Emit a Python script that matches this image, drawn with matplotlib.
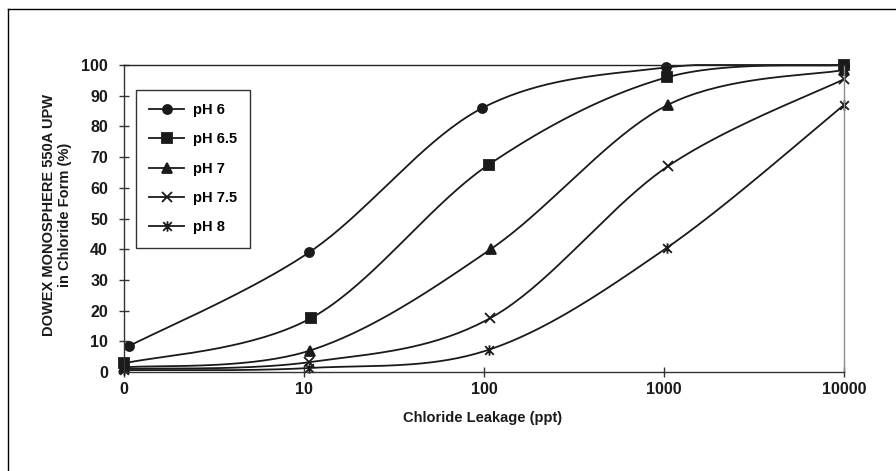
import numpy as np
import matplotlib
matplotlib.use('Agg')
import matplotlib.pyplot as plt
from matplotlib.path import Path
from matplotlib.lines import Line2D

plt.rcParams['font.family'] = ['Liberation Sans', 'DejaVu Sans']
plt.rcParams['font.weight'] = 'bold'

# values (x in ppt, y in %)
labels = ['pH 6', 'pH 6.5', 'pH 7', 'pH 7.5', 'pH 8']
x_ph6 = [1.07, 10.7, 98, 1030, 10000]
y_ph6 = [8.5, 39, 86, 99.2, 100]
x_ph65 = [1.0, 10.9, 106, 1040, 10000]
y_ph65 = [2.8, 17.5, 67.5, 96, 100]
x_ph7 = [1.0, 10.8, 109, 1050, 10000]
y_ph7 = [1.5, 7, 40, 87, 98.4]
x_ph75 = [1.0, 10.7, 108, 1050, 10000]
y_ph75 = [1.0, 3.2, 17.5, 67, 95.4]
x_ph8 = [1.0, 10.7, 107, 1040, 10000]
y_ph8 = [0.6, 1.3, 7.3, 40.5, 87]

tick_pos = [1, 10, 100, 1000, 10000]
tick_lab = ['0', '10', '100', '1000', '10000']

series = [(x_ph6, y_ph6), (x_ph65, y_ph65), (x_ph7, y_ph7), (x_ph75, y_ph75), (x_ph8, y_ph8)]

# excel style star marker: X with a vertical bar
star = Path([(-1, -1), (1, 1), (-1, 1), (1, -1), (0, -1.2), (0, 1.2)],
            [Path.MOVETO, Path.LINETO, Path.MOVETO, Path.LINETO, Path.MOVETO, Path.LINETO])
markers = ['o', 's', '^', 'x', star]
msizes = [6.5, 7, 7, 7, 7.5]


def smooth(xs, ys, n=40):
    # excel-like smoothed line (bezier through the points), in log-x space
    u = np.log10(np.array(xs, float))
    v = np.array(ys, float)
    P = np.column_stack([u, v])
    out = [P[:1]]
    for i in range(len(P) - 1):
        p0 = P[i - 1] if i > 0 else P[i]
        p3 = P[i + 2] if i + 2 < len(P) else P[i + 1]
        c1 = P[i] + (P[i + 1] - p0) / 6
        c2 = P[i + 1] - (p3 - P[i]) / 6
        t = np.linspace(0, 1, n)[1:, None]
        b = ((1 - t) ** 3) * P[i] + 3 * ((1 - t) ** 2) * t * c1 + 3 * (1 - t) * t ** 2 * c2 + t ** 3 * P[i + 1]
        out.append(b)
    pts = np.vstack(out)
    # keep the curve from overshooting the last value
    return 10 ** pts[:, 0], np.minimum(pts[:, 1], v.max())


fig = plt.figure(figsize=(8.96, 4.71), dpi=100)
ax = fig.add_axes([124 / 896, 1 - 372 / 471, 720 / 896, 307 / 471])

for (xs, ys), lab, m, ms in zip(series, labels, markers, msizes):
    sx, sy = smooth(xs, ys)
    ax.plot(sx, sy, color='#1a1a1a', lw=1.3, clip_on=False)
    ax.plot(xs, ys, linestyle='none', marker=m, ms=ms, color='#1a1a1a',
            mec='#1a1a1a', mew=1.3, clip_on=False)

handles = [Line2D([], [], color='#1a1a1a', lw=1.3, marker=m, ms=ms, mew=1.3)
           for m, ms in zip(markers, msizes)]
leg = ax.legend(handles, labels, loc='upper left', bbox_to_anchor=(12 / 720, 1 - 25 / 307),
                frameon=True, fancybox=False, fontsize=10.5, handlelength=2.4,
                labelspacing=1.05, borderpad=0.9, handletextpad=0.6, borderaxespad=0)
leg.get_frame().set_edgecolor('black')
leg.get_frame().set_linewidth(1.0)

ax.set_xscale('log')
ax.set_xlim(1, 10000)
ax.set_ylim(0, 100)
ax.set_xticks(tick_pos)
ax.set_xticklabels(tick_lab)
ax.minorticks_off()
ax.set_yticks(np.arange(0, 101, 10))
ax.tick_params(axis='both', labelsize=11.5, direction='inout', length=7, width=1, colors='#333333')
ax.tick_params(axis='x', pad=4)
ax.tick_params(axis='y', pad=8)
for lbl in ax.get_xticklabels() + ax.get_yticklabels():
    lbl.set_fontweight('bold')
    lbl.set_color('#1a1a1a')

ax.spines['left'].set_color('#333333')
ax.spines['bottom'].set_color('#333333')
ax.spines['top'].set_color('#222222')
ax.spines['right'].set_color('#8c8c8c')
for s in ax.spines.values():
    s.set_linewidth(1.0)

fig.text(57 / 896, 1 - 215 / 471, 'DOWEX MONOSPHERE 550A UPW\nin Chloride Form (%)',
         rotation=90, ha='center', va='center', multialignment='center',
         fontsize=10.5, fontweight='bold', linespacing=1.25, color='#1a1a1a')
fig.text(483 / 896, 1 - 418 / 471, 'Chloride Leakage (ppt)', ha='center', va='center',
         fontsize=10.5, fontweight='bold', color='#1a1a1a')

# outer frame (only left and top edge fall inside the picture)
fig.add_artist(Line2D([7.5 / 896, 7.5 / 896], [0, 1 - 9 / 471], color='black', lw=1.0,
                      transform=fig.transFigure))
fig.add_artist(Line2D([7.5 / 896, 1], [1 - 9 / 471, 1 - 9 / 471], color='black', lw=1.0,
                      transform=fig.transFigure))

fig.savefig('out.png', dpi=100)
